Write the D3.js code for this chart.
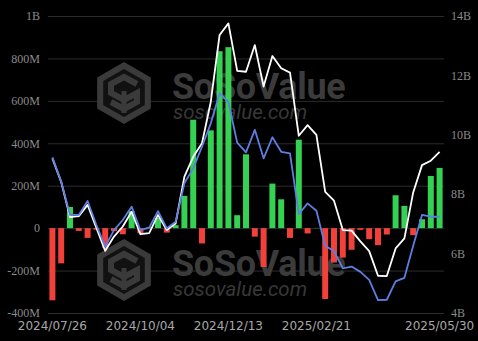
<!DOCTYPE html>
<html><head><meta charset="utf-8">
<script src="https://cdn.jsdelivr.net/npm/d3@7"></script>
<style>html,body{margin:0;padding:0;background:#000;overflow:hidden;} svg{display:block;}</style>
</head><body><svg id="c" width="478" height="341"></svg>
<script>
const dates = ["2024/07/26","2024/08/02","2024/08/09","2024/08/16","2024/08/23","2024/08/30","2024/09/06","2024/09/13","2024/09/20","2024/09/27",
"2024/10/04","2024/10/11","2024/10/18","2024/10/25","2024/11/01","2024/11/08","2024/11/15","2024/11/22","2024/11/29","2024/12/06",
"2024/12/13","2024/12/20","2024/12/27","2025/01/03","2025/01/10","2025/01/17","2025/01/24","2025/01/31","2025/02/07","2025/02/14",
"2025/02/21","2025/02/28","2025/03/07","2025/03/14","2025/03/21","2025/03/28","2025/04/04","2025/04/11","2025/04/18","2025/04/25",
"2025/05/02","2025/05/09","2025/05/16","2025/05/23","2025/05/30"];
// weekly net inflow, million USD (left axis)
const netInflow = [-340,-166,100,-13,-46,-7,-92,-14,-29,80,
-24,4,48,-21,14,152,511,-72,461,834,
853,61,348,-40,-183,210,136,-46,417,-25,
1,-334,-162,-139,-102,-8,-52,-80,-30,155,
105,-33,42,246,284];
// total net assets, billion USD (right axis, white)
const totalNetAssets = [9.2,8.4,7.22,7.25,7.63,6.85,6.08,6.56,6.9,7.4,
6.64,6.68,7.29,6.78,7.0,8.58,9.25,9.71,11.11,13.36,
13.75,12.15,12.12,13.02,11.62,12.65,12.24,12.09,9.96,10.32,
9.99,8.07,7.77,6.78,6.76,6.4,6.07,5.24,5.23,6.16,
6.5,8.05,8.97,9.12,9.42];
// second series, billion USD (right axis, blue)
const blueSeries = [9.23,8.42,7.29,7.29,7.76,6.95,6.22,6.78,7.12,7.57,
6.78,6.86,7.42,6.84,7.06,8.36,8.86,9.59,10.38,11.39,
11.1,9.73,9.4,10.16,9.2,9.91,9.42,9.37,7.32,7.68,
7.43,6.25,6.07,5.49,5.55,5.37,5.1,4.42,4.43,5.05,
5.17,6.25,7.29,7.23,7.23];
const xTickLabels = ["2024/07/26","2024/10/04","2024/12/13","2025/02/21","2025/05/30"];
const leftTicks = [-400,-200,0,200,400,600,800,1000];
const rightTicks = [4,6,8,10,12,14];

const svg = d3.select("#c");
svg.append("rect").attr("width",478).attr("height",341).attr("fill","#000");

const x = d3.scaleBand().domain(dates).range([48,444]).paddingInner(0.32).paddingOuter(0.16);
const yL = d3.scaleLinear().domain([-400,1000]).range([313,16]);
const yR = d3.scaleLinear().domain([4,14]).range([312.5,16]);
const cx = d => x(d) + x.bandwidth()/2;

// gridlines
const grid = svg.append("g").attr("transform","translate(48,0)")
  .call(d3.axisLeft(yL).tickValues(leftTicks).tickSize(-396).tickFormat(""));
grid.select(".domain").remove();
grid.selectAll("line").attr("stroke","#2c2c2c").attr("stroke-width",1);

// watermark
function watermark(g){
  const r = 31;
  const hex = d3.range(6).map(k => { const a = Math.PI/180*(60*k-90); return [r*Math.cos(a), r*Math.sin(a)]; });
  const logo = g.append("g").attr("transform","translate(124,93)");
  logo.append("path").attr("d","M"+hex.map(p=>p.join(",")).join("L")+"Z").attr("fill","#3a3a3a");
  const hexIn = d3.range(6).map(k => { const a = Math.PI/180*(60*k-90); return [24*Math.cos(a), 24*Math.sin(a)]; });
  logo.append("path").attr("d","M"+hexIn.map(p=>p.join(",")).join("L")+"Z").attr("fill","#111");
  logo.append("path").attr("d","M13,-9 L0,-16 L-13,-9 L-13,0 L0,7 L13,0 L13,9 L0,16 L-13,9")
    .attr("fill","none").attr("stroke","#3a3a3a").attr("stroke-width",6).attr("stroke-linejoin","miter");
  logo.append("path").attr("d","M0,-2 L0,20").attr("stroke","#3a3a3a").attr("stroke-width",5);
  g.append("text").attr("x",172).attr("y",99).text("SoSoValue")
    .attr("font-family","Roboto, 'Open Sans', sans-serif").attr("font-weight",700)
    .attr("font-size",36).attr("letter-spacing",-0.3).attr("fill","#3b3b3b");
  g.append("text").attr("x",173).attr("y",119).text("sosovalue.com")
    .attr("font-family","Roboto, 'Open Sans', sans-serif").attr("font-style","italic")
    .attr("font-size",20.5).attr("fill","#383838");
}
watermark(svg.append("g"));
watermark(svg.append("g").attr("transform","translate(0,177)"));

// bars
svg.append("g").selectAll("rect").data(dates).join("rect")
  .attr("x", d => x(d))
  .attr("width", x.bandwidth())
  .attr("y", (d,i) => yL(Math.max(0, netInflow[i])))
  .attr("height", (d,i) => Math.abs(yL(netInflow[i]) - yL(0)))
  .attr("fill", (d,i) => netInflow[i] >= 0 ? "#34d152" : "#f2413a");

// lines
const lineW = d3.line().x((d,i)=>cx(dates[i])).y(d=>yR(d));
svg.append("path").datum(totalNetAssets).attr("d",lineW).attr("fill","none")
  .attr("stroke","#ffffff").attr("stroke-width",1.8).attr("stroke-linejoin","round");
svg.append("path").datum(blueSeries).attr("d",lineW).attr("fill","none")
  .attr("stroke","#5d7fe2").attr("stroke-width",1.8).attr("stroke-linejoin","round");

// left axis labels
const fmtL = v => v === 0 ? "0" : (Math.abs(v) >= 1000 ? (v/1000)+"B" : v+"M");
const ax = svg.append("g").attr("transform","translate(40,0)")
  .call(d3.axisLeft(yL).tickValues(leftTicks).tickSize(0).tickPadding(0).tickFormat(fmtL));
ax.select(".domain").remove();
ax.selectAll("text").attr("font-family","'Liberation Serif', 'DejaVu Serif', serif")
  .attr("font-size",12).attr("fill","#8a8a8a");

// right axis labels
const ar = svg.append("g").attr("transform","translate(451,0)")
  .call(d3.axisRight(yR).tickValues(rightTicks).tickSize(0).tickPadding(0).tickFormat(v => v+"B"));
ar.select(".domain").remove();
ar.selectAll("text").attr("font-family","'Liberation Serif', 'DejaVu Serif', serif")
  .attr("font-size",12).attr("fill","#8a8a8a");

// bottom axis labels
const xa = svg.append("g").attr("transform","translate(0,319)")
  .call(d3.axisBottom(x).tickValues(xTickLabels).tickSize(0).tickPadding(0));
xa.select(".domain").remove();
xa.selectAll("text").attr("font-family","'DejaVu Sans', sans-serif")
  .attr("font-size",12).attr("fill","#a8a8a8").attr("dy","0.95em");
</script>
</body></html>
